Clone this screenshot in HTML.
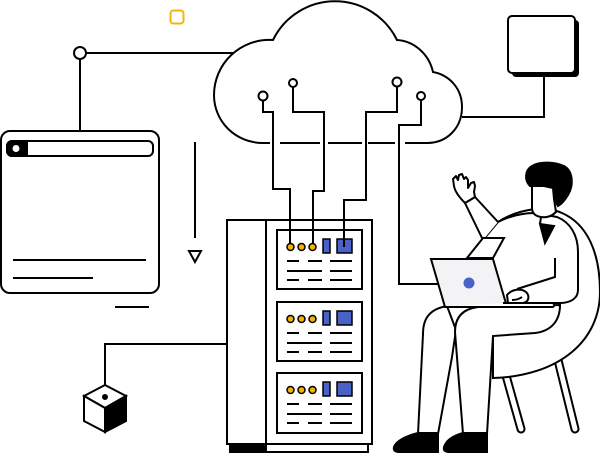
<!DOCTYPE html>
<html><head><meta charset="utf-8"><style>html,body{margin:0;padding:0;background:#fff;}svg{display:block}</style></head>
<body>
<svg width="600" height="454" viewBox="0 0 600 454" xmlns="http://www.w3.org/2000/svg" fill="none" stroke="#000" stroke-width="2">
<!-- yellow square -->
<rect x="170.5" y="10.5" width="13" height="13" rx="3" stroke="#f2b705" stroke-width="2"/>

<!-- left connector -->
<path d="M86 53 H233 M80 59 V131"/>
<circle cx="80" cy="53" r="6" fill="#fff"/>

<!-- cloud -->
<path d="M405 143 H427 C447 143 462 128 462 107 C462 88 449 75 433 72 C429 54 414 41 397 40 A69 69 0 0 0 273 40 C240 38 214 64 214 95 C214 122 236 143 263 143 H270" fill="#fff"/>
<path d="M280 143 H320 M328 143 H362 M368 143 H395"/>

<!-- top-right box -->
<rect x="512" y="20" width="67" height="57" rx="4" fill="#000" stroke="none"/>
<rect x="508" y="16" width="67" height="57" rx="4" fill="#fff"/>
<path d="M544 73 V117 H462"/>

<!-- window -->
<rect x="1" y="131" width="158" height="162" rx="9" fill="#fff"/>
<rect x="7" y="141" width="146" height="15" rx="5" fill="#fff"/>
<path d="M27 141 H12 A5 5 0 0 0 7 146 V151 A5 5 0 0 0 12 156 H27 Z" fill="#000"/>
<circle cx="16" cy="148.5" r="3.5" fill="#fff" stroke="none"/>
<path d="M13 260 H146 M13 278 H93 M115 307 H149"/>

<!-- down arrow -->
<path d="M195 142 V238"/>
<path d="M189 251 L201 251 L195 262 Z" fill="#fff"/>

<!-- rack -->
<rect x="227" y="220" width="145" height="224" fill="#fff"/>
<path d="M266 220 V444"/>
<rect x="229" y="444" width="37" height="9" fill="#000" stroke="none"/>
<rect x="266" y="444" width="102" height="8" fill="#fff"/>

<g id="p1">
<rect x="277" y="230" width="85" height="59" fill="#fff"/>
<path d="M287 261H299 M308 261H322 M330 261H352 M287 271H322 M330 271H352 M287 280H299 M308 280H322 M330 280H352"/>
<rect x="323" y="239" width="7" height="14" fill="#4a62c8" stroke-width="1.5"/>
<rect x="337" y="239" width="15" height="14" fill="#4a62c8" stroke-width="1.5"/>
</g>
<g transform="translate(0,72)">
<rect x="277" y="230" width="85" height="59" fill="#fff"/>
<path d="M287 261H299 M308 261H322 M330 261H352 M287 271H322 M330 271H352 M287 280H299 M308 280H322 M330 280H352"/>
<rect x="323" y="239" width="7" height="14" fill="#4a62c8" stroke-width="1.5"/>
<rect x="337" y="239" width="15" height="14" fill="#4a62c8" stroke-width="1.5"/>
<circle cx="290.5" cy="247" r="3.5" fill="#f5b301" stroke-width="1.5"/>
<circle cx="301.5" cy="247" r="3.5" fill="#f5b301" stroke-width="1.5"/>
<circle cx="312.5" cy="247" r="3.5" fill="#f5b301" stroke-width="1.5"/>
</g>
<g transform="translate(0,143)">
<rect x="277" y="230" width="85" height="60" fill="#fff"/>
<path d="M287 261H299 M308 261H322 M330 261H352 M287 271H322 M330 271H352 M287 280H299 M308 280H322 M330 280H352"/>
<rect x="323" y="239" width="7" height="14" fill="#4a62c8" stroke-width="1.5"/>
<rect x="337" y="239" width="15" height="14" fill="#4a62c8" stroke-width="1.5"/>
<circle cx="290.5" cy="247" r="3.5" fill="#f5b301" stroke-width="1.5"/>
<circle cx="301.5" cy="247" r="3.5" fill="#f5b301" stroke-width="1.5"/>
<circle cx="312.5" cy="247" r="3.5" fill="#f5b301" stroke-width="1.5"/>
</g>

<!-- wires from cloud -->
<path d="M263 100.5 V112 H273 V189 H290 V243.5"/>
<path d="M293 87 V112 H324 V191 H313 V243.5"/>
<path d="M397 86.5 V112 H366 V200 H344 V247"/>
<path d="M421 100 V125 H399 V284 H438"/>
<circle cx="263" cy="96" r="4.5" fill="#fff"/>
<circle cx="293" cy="83" r="4" fill="#fff"/>
<circle cx="397" cy="82" r="4.5" fill="#fff"/>
<circle cx="421" cy="96" r="4" fill="#fff"/>
<circle cx="290.5" cy="247" r="3.5" fill="#f5b301" stroke-width="1.5"/>
<circle cx="301.5" cy="247" r="3.5" fill="#f5b301" stroke-width="1.5"/>
<circle cx="312.5" cy="247" r="3.5" fill="#f5b301" stroke-width="1.5"/>

<!-- cube connector -->
<path d="M227 344 H105 V397"/>
<path d="M105 385 L126 396 L105 408 L84 396 Z" fill="#fff"/>
<path d="M84 396 V421 L105 432 V408 Z" fill="#fff"/>
<path d="M126 396 V421 L105 432 V408 Z" fill="#000"/>
<circle cx="105" cy="397" r="2" fill="#000"/>

<!-- chair legs -->
<path d="M505 372 L521 429" stroke-width="9" stroke-linecap="round"/>
<path d="M505 372 L521 429" stroke-width="5" stroke="#fff" stroke-linecap="round"/>
<path d="M556 352 L575 429" stroke-width="9" stroke-linecap="round"/>
<path d="M556 352 L575 429" stroke-width="5" stroke="#fff" stroke-linecap="round"/>
<path d="M452 356 L447 374"/>

<!-- chair body -->
<path d="M498 222 C518 209 545 205 562 213 C587 224 600 252 600 292 C600 340 560 376 493 378 L493 333 L535 332 C550 330 560 318 560 303 Z" fill="#fff"/>

<!-- person legs -->
<path d="M447 306 C430 309 423 318 423 334 L418 434 L438 434 L452 357 L456 330 Z" fill="#fff"/>
<path d="M478 307 C462 309 455 318 455 332 L463 434 L487 434 L493 336 L535 333 C552 331 560 320 560 305 Z" fill="#fff"/>
<path d="M438 433 L418 433 C406 436 396 441 394 447 C393 451 396 452 400 452 L438 452 Z" fill="#000"/>
<path d="M487 433 L463 433 C452 436 446 441 444 447 C443 451 446 452 450 452 L487 452 Z" fill="#000"/>

<!-- torso -->
<path d="M483 240 L498 222 C512 215 525 213 535 213 L557 217 C570 222 578 235 578 252 L578 290 C578 298 571 303 560 303 L470 303 Z" fill="#fff"/>
<path d="M555 258 V277 L517 289"/>

<!-- raised arm -->
<path d="M483 240 L465 203 L475 197 L498 222" fill="#fff"/>
<path d="M465 203 C460 198 455 192 454 186 L453 179 L456 176 L458 180 L459 175 L462 174 L464 179 L466 177 L468 180 L468 188 L471 183 L474 182 L475 186 L474 192 L475 197 Z" fill="#fff" stroke-linejoin="round"/>

<!-- head -->
<path d="M541 217 L540 224"/>
<path d="M530 186 C524 180 525 170 532 166 C540 161 555 162 564 166 C573 171 574 185 568 195 C565 200 562 204 558 206 L554 199 L553 188 L544 186 Z" fill="#000"/>
<path d="M532 186 L544 186 L553 188 L554 199 L556 212 C552 216 547 218 541 217 C535 216 532 213 532 208 Z" fill="#fff"/>
<path d="M540 224 L554 226 L545 243 Z" fill="#000"/>

<!-- paper -->
<path d="M467 258 L483 238 L504 238 L493 258 Z" fill="#fff"/>

<!-- laptop -->
<path d="M431 259 L493 259 L507 307 L445 307 Z" fill="#f3f3f6"/>
<circle cx="469" cy="283" r="5.5" fill="#4a62c8" stroke="none"/>
<path d="M507 295 C512 289 521 288 526 292 C530 296 529 302 523 303 L508 303 Z" fill="#fff"/>
<path d="M512 300 Q518 300 522 297"/>
<path d="M503 303 L552 303 C555 303 555 307 552 307 L445 307" fill="#fff"/>
</svg>
</body></html>
